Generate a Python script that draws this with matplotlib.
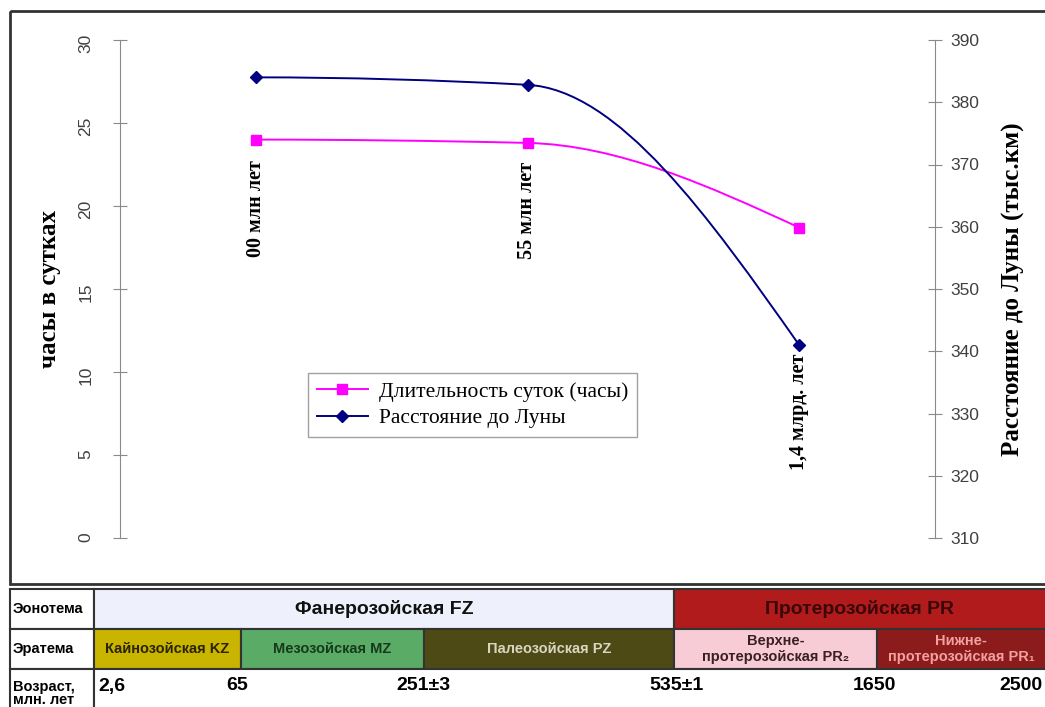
import numpy as np
import matplotlib
matplotlib.use('Agg')
import matplotlib.pyplot as plt
from matplotlib.path import Path
from matplotlib.patches import PathPatch, Rectangle
from matplotlib.lines import Line2D

# --- data ---
periods = ['00 млн лет', '55 млн лет', '1,4 млрд. лет']
day_hours = [24.0, 23.8, 18.7]
moon_dist = [384.0, 382.8, 341.0]

eons = ['Фанерозойская FZ', 'Протерозойская PR']
eras = ['Кайнозойская KZ', 'Мезозойская MZ', 'Палеозойская PZ',
        'Верхне-\nпротерозойская PR₂', 'Нижне-\nпротерозойская PR₁']
ages = ['2,6', '65', '251±3', '535±1', '1650', '2500']
row_heads = ['Эонотема', 'Эратема', 'Возраст,\nмлн. лет']

# --- styles / layout (pixel coords of the 1045x707 canvas) ---
SERIF = ['Liberation Serif', 'DejaVu Serif']
SANS = ['Liberation Sans', 'DejaVu Sans']
eon_edges = [94, 674, 1052]
era_edges = [94, 241, 424, 674, 877, 1052]
row_edges = [589, 629, 669, 712]
eon_colors = ['#eef1fb', '#b11b1b']
eon_text = ['#111111', '#3a0808']
era_colors = ['#c9b400', '#5aab66', '#4e4a16', '#f8ccd6', '#8c1b1b']
era_text = ['#2a2400', '#173a1c', '#d8d6c0', '#3a2020', '#f2a0a0']
age_x = [98, 237, 423, 676, 874, 1042]
age_ha = ['left', 'center', 'center', 'center', 'center', 'right']


def smooth_path(x, y):
    """Monotone cubic (Fritsch-Carlson) through the points, as Bezier path."""
    x = np.asarray(x, float)
    y = np.asarray(y, float)
    h = np.diff(x)
    d = np.diff(y) / h
    n = len(y)
    m = np.zeros(n)
    for i in range(1, n - 1):
        if d[i - 1] * d[i] > 0:
            w1 = 2 * h[i] + h[i - 1]
            w2 = h[i] + 2 * h[i - 1]
            m[i] = (w1 + w2) / (w1 / d[i - 1] + w2 / d[i])
    m0 = ((2 * h[0] + h[1]) * d[0] - h[0] * d[1]) / (h[0] + h[1])
    m[0] = m0 if np.sign(m0) == np.sign(d[0]) else 0.0
    mn = ((2 * h[-1] + h[-2]) * d[-1] - h[-1] * d[-2]) / (h[-1] + h[-2])
    m[-1] = mn if np.sign(mn) == np.sign(d[-1]) else 0.0
    verts = [(x[0], y[0])]
    codes = [Path.MOVETO]
    for i in range(n - 1):
        verts += [(x[i] + h[i] / 3, y[i] + m[i] * h[i] / 3),
                  (x[i + 1] - h[i] / 3, y[i + 1] - m[i + 1] * h[i] / 3),
                  (x[i + 1], y[i + 1])]
        codes += [Path.CURVE4] * 3
    return Path(verts, codes)


W, H = 1045, 707
fig = plt.figure(figsize=(W / 100, H / 100), dpi=100)

# full-canvas axis for the frame and the stratigraphic table
axb = fig.add_axes([0, 0, 1, 1])
axb.set_xlim(0, W)
axb.set_ylim(H, 0)
axb.axis('off')
axb.add_patch(Rectangle((10, 11), W + 10, 573, fill=False, ec='#333333', lw=2))

for i, name in enumerate(row_heads):
    y0, y1 = row_edges[i], row_edges[i + 1]
    axb.add_patch(Rectangle((10, y0), eon_edges[0] - 10, y1 - y0, fc='white', ec='#333333', lw=1.5))
    axb.text(13, (y0 + y1) / 2 + (3 if i == 2 else 0), name, ha='left', va='center',
             fontsize=10.5, fontweight='bold', family=SANS, linespacing=1.0)

for i, name in enumerate(eons):
    x0, x1 = eon_edges[i], eon_edges[i + 1]
    y0, y1 = row_edges[0], row_edges[1]
    axb.add_patch(Rectangle((x0, y0), x1 - x0, y1 - y0, fc=eon_colors[i], ec='#333333', lw=1.5))
    cx = (x0 + min(x1, W)) / 2
    axb.text(cx, (y0 + y1) / 2, name, ha='center', va='center', fontsize=14,
             fontweight='bold', family=SANS, color=eon_text[i])

for i, name in enumerate(eras):
    x0, x1 = era_edges[i], era_edges[i + 1]
    y0, y1 = row_edges[1], row_edges[2]
    axb.add_patch(Rectangle((x0, y0), x1 - x0, y1 - y0, fc=era_colors[i], ec='#333333', lw=1.5))
    cx = (x0 + min(x1, W)) / 2
    axb.text(cx, (y0 + y1) / 2, name, ha='center', va='center', fontsize=10.5,
             fontweight='bold', family=SANS, color=era_text[i], linespacing=1.1)

y0, y1 = row_edges[2], row_edges[3]
axb.add_patch(Rectangle((eon_edges[0], y0), W + 10, y1 - y0, fc='white', ec='#333333', lw=1.5))
for lab, x, ha in zip(ages, age_x, age_ha):
    axb.text(x, 686, lab, ha=ha, va='center', fontsize=14, fontweight='bold', family=SANS)

# main chart
ax = fig.add_axes([120 / W, 1 - 538 / H, 815 / W, 498 / H])
ax.patch.set_alpha(0)
ax2 = ax.twinx()
xs = np.arange(len(periods))

pink = '#ff00ff'
navy = '#000080'
ax.add_patch(PathPatch(smooth_path(xs, day_hours), fill=False, ec=pink, lw=1.4))
ax.plot(xs, day_hours, ls='none', marker='s', ms=7, color=pink)
ax2.add_patch(PathPatch(smooth_path(xs, moon_dist), fill=False, ec=navy, lw=1.4))
ax2.plot(xs, moon_dist, ls='none', marker='D', ms=6, color=navy)

ax.set_xlim(-0.5, len(periods) - 0.5)
ax.set_ylim(0, 30)
ax.set_yticks(range(0, 31, 5))
ax2.set_ylim(310, 390)
ax2.set_yticks(range(310, 391, 10))
ax.set_xticks([])

for a in (ax, ax2):
    for s in a.spines.values():
        s.set_visible(False)
ax.spines['left'].set_visible(True)
ax.spines['left'].set_color('#8a8a8a')
ax2.spines['right'].set_visible(True)
ax2.spines['right'].set_color('#8a8a8a')

ax.tick_params(axis='y', direction='inout', length=10, color='#8a8a8a', pad=14,
               labelrotation=90, labelsize=12.5, labelcolor='#404040')
ax2.tick_params(axis='y', direction='inout', length=10, color='#8a8a8a', pad=6,
                labelsize=12.5, labelcolor='#404040')
for lbl in ax.get_yticklabels() + ax2.get_yticklabels():
    lbl.set_family(SANS)

ax.set_ylabel('часы в сутках', fontsize=18, fontweight='bold', family=SERIF)
ax.yaxis.set_label_coords(-0.073, 0.5)
ax2.set_ylabel('Расстояние до Луны (тыс.км)', fontsize=18, fontweight='bold', family=SERIF)
ax2.yaxis.set_label_coords(1.082, 0.5)

# period annotations under the points
ax.annotate(periods[0], xy=(xs[0], day_hours[0]), xytext=(0, -15), textcoords='offset points',
            rotation=90, ha='center', va='top', fontsize=14.5, fontweight='bold', family=SERIF)
ax.annotate(periods[1], xy=(xs[1], day_hours[1]), xytext=(0, -14), textcoords='offset points',
            rotation=90, ha='center', va='top', fontsize=14.5, fontweight='bold', family=SERIF)
ax2.annotate(periods[2], xy=(xs[2], moon_dist[2]), xytext=(0, -6), textcoords='offset points',
             rotation=90, ha='center', va='top', fontsize=14.5, fontweight='bold', family=SERIF)

handles = [Line2D([], [], color=pink, marker='s', ms=7, lw=1.4),
           Line2D([], [], color=navy, marker='D', ms=6, lw=1.4)]
leg = fig.legend(handles, ['Длительность суток (часы)', 'Расстояние до Луны'],
                 loc='upper left', bbox_to_anchor=(308 / W, 1 - 373 / H), borderaxespad=0,
                 fancybox=False, frameon=True, edgecolor='#8a8a8a', handlelength=2.4,
                 handletextpad=0.5, prop={'family': SERIF, 'size': 15.5},
                 labelspacing=0.3, borderpad=0.4)
leg.get_frame().set_linewidth(1.0)

fig.savefig('out.png', dpi=100)
